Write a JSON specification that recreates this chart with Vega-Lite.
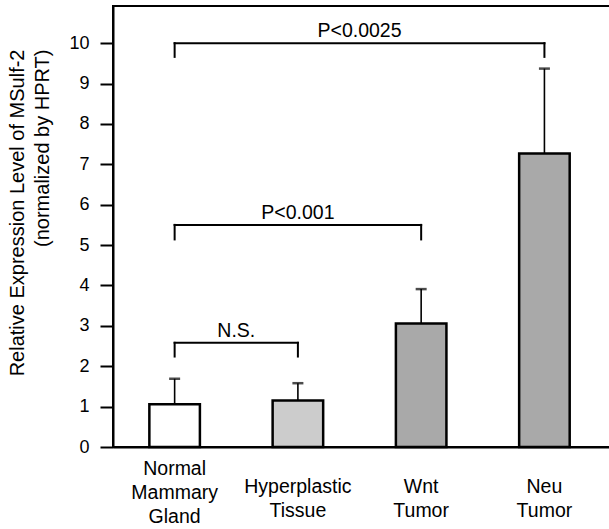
{
  "$schema": "https://vega.github.io/schema/vega-lite/v6.json",
  "width": 497,
  "height": 441,
  "autosize": {"type": "none"},
  "padding": {"left": 113, "top": 6, "right": 0, "bottom": 82},
  "background": "white",
  "config": {
    "font": "Liberation Sans",
    "view": {"stroke": "black", "strokeWidth": 2},
    "axis": {"domainColor": "black", "tickColor": "black", "labelColor": "black", "titleColor": "black", "grid": false}
  },
  "datasets": {
    "bars": [
      {"group": "Normal Mammary Gland", "mean": 1.06, "upper": 1.69},
      {"group": "Hyperplastic Tissue", "mean": 1.15, "upper": 1.58},
      {"group": "Wnt Tumor", "mean": 3.06, "upper": 3.91},
      {"group": "Neu Tumor", "mean": 7.27, "upper": 9.37}
    ],
    "brackets": [
      {"label": "N.S.", "from": "Normal Mammary Gland", "to": "Hyperplastic Tissue", "top": 2.58, "leg": 2.24, "labelAt": "Hyperplastic Tissue", "labelPos": "edge"},
      {"label": "P<0.001", "from": "Normal Mammary Gland", "to": "Wnt Tumor", "top": 5.5, "leg": 5.14, "labelAt": "Hyperplastic Tissue", "labelPos": "center"},
      {"label": "P<0.0025", "from": "Normal Mammary Gland", "to": "Neu Tumor", "top": 10.0, "leg": 9.66, "labelAt": "Wnt Tumor", "labelPos": "edge"}
    ]
  },
  "layer": [
    {
      "data": {"name": "bars"},
      "mark": {"type": "bar", "width": {"band": 0.41}, "stroke": "black", "strokeWidth": 2.5},
      "encoding": {
        "x": {
          "field": "group", "type": "nominal", "sort": null,
          "scale": {"domain": ["Normal Mammary Gland", "Hyperplastic Tissue", "Wnt Tumor", "Neu Tumor"], "paddingInner": 0, "paddingOuter": 0.016, "align": 0},
          "axis": {
            "title": null,
            "labelExpr": "split(datum.label, ' ')",
            "labelFontSize": 19.5,
            "labelAngle": 0,
            "labelBaseline": "top",
            "labelLineHeight": 24,
            "labelPadding": {"condition": {"test": "datum.value === 'Normal Mammary Gland'", "value": 12}, "value": 30},
            "ticks": false,
            "tickSize": 0,
            "domainWidth": 2
          }
        },
        "y": {
          "field": "mean", "type": "quantitative",
          "title": ["Relative Expression Level of MSulf-2", "(normalized by HPRT)"],
          "scale": {"domain": [0, 10.92], "nice": false},
          "axis": {
            "title": ["Relative Expression Level of MSulf-2", "(normalized by HPRT)"],
            "values": [0, 1, 2, 3, 4, 5, 6, 7, 8, 9, 10],
            "tickSize": 13,
            "tickWidth": 2,
            "domainWidth": 2,
            "labelFontSize": 18,
            "labelPadding": 11,
            "titleFontSize": 20,
            "titleFontWeight": "normal",
            "titleAngle": 270,
            "titleAlign": "right",
            "titleBaseline": "top",
            "titleLineHeight": 25,
            "titleLimit": 1000,
            "titleX": -106,
            "titleY": 43
          }
        },
        "color": {
          "field": "group", "type": "nominal",
          "scale": {"domain": ["Normal Mammary Gland", "Hyperplastic Tissue", "Wnt Tumor", "Neu Tumor"], "range": ["#ffffff", "#cccccc", "#a9a9a9", "#a9a9a9"]},
          "legend": null
        }
      }
    },
    {
      "data": {"name": "bars"},
      "mark": {"type": "rule", "color": "black", "strokeWidth": 1.6},
      "encoding": {
        "x": {"field": "group", "type": "nominal", "sort": null},
        "y": {"field": "mean", "type": "quantitative"},
        "y2": {"field": "upper"}
      }
    },
    {
      "data": {"name": "bars"},
      "mark": {"type": "tick", "color": "black", "size": 11, "thickness": 2.5},
      "encoding": {
        "x": {"field": "group", "type": "nominal", "sort": null},
        "y": {"field": "upper", "type": "quantitative"}
      }
    },
    {
      "data": {"name": "brackets"},
      "mark": {"type": "rule", "color": "black", "strokeWidth": 2, "strokeCap": "square"},
      "encoding": {
        "x": {"field": "from", "type": "nominal", "sort": null},
        "x2": {"field": "to"},
        "y": {"field": "top", "type": "quantitative"}
      }
    },
    {
      "data": {"name": "brackets"},
      "mark": {"type": "rule", "color": "black", "strokeWidth": 2, "strokeCap": "square"},
      "encoding": {
        "x": {"field": "from", "type": "nominal", "sort": null},
        "y": {"field": "top", "type": "quantitative"},
        "y2": {"field": "leg"}
      }
    },
    {
      "data": {"name": "brackets"},
      "mark": {"type": "rule", "color": "black", "strokeWidth": 2, "strokeCap": "square"},
      "encoding": {
        "x": {"field": "to", "type": "nominal", "sort": null},
        "y": {"field": "top", "type": "quantitative"},
        "y2": {"field": "leg"}
      }
    },
    {
      "data": {"name": "brackets"},
      "transform": [{"filter": "datum.labelPos === 'edge'"}],
      "mark": {"type": "text", "color": "black", "fontSize": 19.5, "baseline": "alphabetic", "dy": -6},
      "encoding": {
        "x": {"field": "labelAt", "type": "nominal", "sort": null, "bandPosition": 0},
        "y": {"field": "top", "type": "quantitative"},
        "text": {"field": "label"}
      }
    },
    {
      "data": {"name": "brackets"},
      "transform": [{"filter": "datum.labelPos === 'center'"}],
      "mark": {"type": "text", "color": "black", "fontSize": 19.5, "baseline": "alphabetic", "dy": -6},
      "encoding": {
        "x": {"field": "labelAt", "type": "nominal", "sort": null, "bandPosition": 0.5},
        "y": {"field": "top", "type": "quantitative"},
        "text": {"field": "label"}
      }
    }
  ]
}
